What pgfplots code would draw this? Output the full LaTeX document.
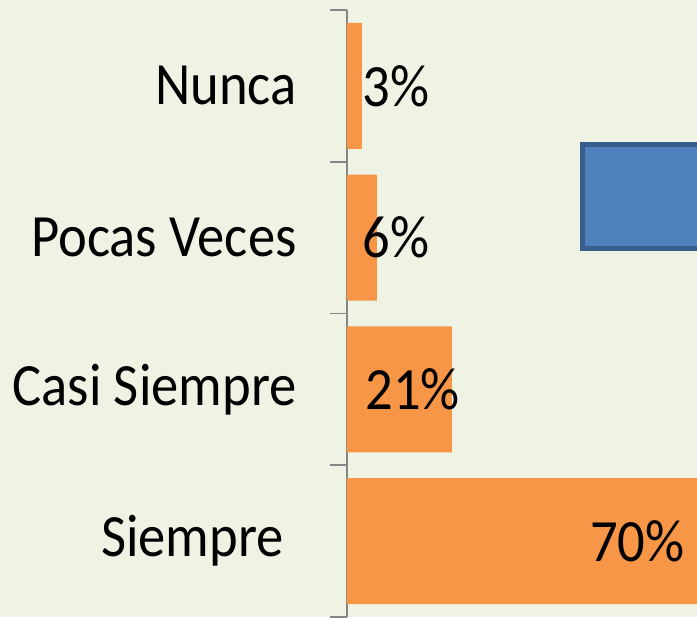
\documentclass[border=0pt]{standalone}
\usepackage{pgfplots}
\pgfplotsset{compat=1.18}
\usepackage{fontspec}
\setmainfont{Carlito}[FakeStretch=0.91]
\definecolor{barorange}{HTML}{F79646}
\definecolor{bgcol}{RGB}{239,243,228}
\definecolor{axisgray}{HTML}{868686}
\definecolor{boxblue}{HTML}{4F81BD}
\definecolor{boxedge}{HTML}{385D8A}
\begin{document}
\begin{tikzpicture}[x=1pt,y=1pt]
\useasboundingbox (0,0) rectangle (348.5,308.5);
\clip (0,0) rectangle (348.5,308.5);
\fill[bgcol] (0,0) rectangle (348.5,308.5);
% decorative blue box (partly outside the picture)
\filldraw[fill=boxblue, draw=boxedge, line width=2.5pt] (291.25,184.25) rectangle (360,236.25);
\begin{axis}[
  at={(173.5pt,0pt)}, anchor=south west,
  scale only axis, width=175pt, height=303.5pt,
  xmin=0, xmax=70, ymin=-0.5, ymax=3.5,
  xbar, bar width=0.83,
  axis x line=none, axis y line=left,
  y axis line style={-, draw=axisgray, line width=0.8pt},
  ytick={0,1,2,3},
  yticklabels={Siempre\rule{6.5pt}{0pt}, Casi Siempre, Pocas Veces, Nunca},
  major tick length=0pt,
  minor ytick={-0.5,0.5,1.5,2.5,3.5},
  minor tick length=8.5pt,
  tick align=outside,
  minor tick style={draw=axisgray, line width=0.8pt},
  yticklabel style={font=\fontsize{30}{32}\selectfont, inner sep=0pt, xshift=-25pt},
  clip=false,
]
\addplot[fill=barorange, draw=none] coordinates {(70,0) (21,1) (6,2) (3,3)};
\node[anchor=west, inner sep=0pt, font=\fontsize{30}{32}\selectfont] at (axis cs:3.0,3) {3\%};
\node[anchor=west, inner sep=0pt, font=\fontsize{30}{32}\selectfont] at (axis cs:3.0,2) {6\%};
\node[anchor=west, inner sep=0pt, font=\fontsize{30}{32}\selectfont] at (axis cs:3.6,1) {21\%};
\node[anchor=east, inner sep=0pt, font=\fontsize{30}{32}\selectfont] at (axis cs:67.6,0) {70\%};
\end{axis}
\end{tikzpicture}
\end{document}
